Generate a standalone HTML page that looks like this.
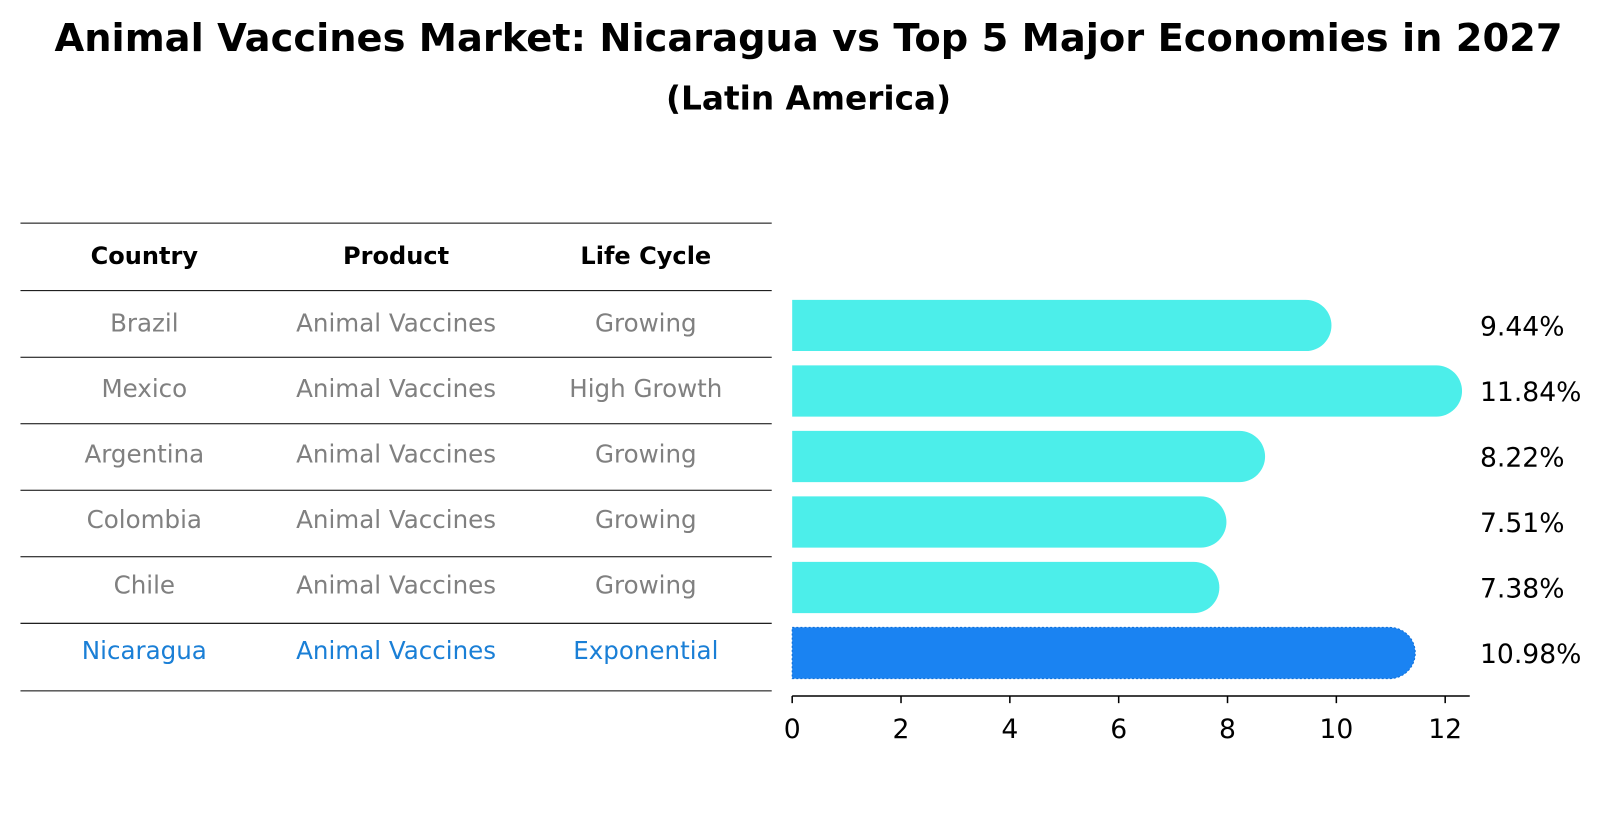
<!DOCTYPE html>
<html><head><meta charset="utf-8"><style>
body{margin:0;background:#fff;}
svg{display:block;font-family:"DejaVu Sans","Liberation Sans",sans-serif;}
</style></head><body>
<svg id="chart" width="1604" height="823" viewBox="0 0 1604 823">
<g transform="scale(1.0235)">
<text x="790" y="50" text-anchor="middle" font-size="37.5" font-weight="bold">Animal Vaccines Market: Nicaragua vs Top 5 Major Economies in 2027</text>
<text x="790" y="107" text-anchor="middle" font-size="32" font-weight="bold">(Latin America)</text>
<g id="table"></g>
<g id="bars"></g>
</g>
</svg>
<script>
const countries=["Brazil","Mexico","Argentina","Colombia","Chile","Nicaragua"];
const products=["Animal Vaccines","Animal Vaccines","Animal Vaccines","Animal Vaccines","Animal Vaccines","Animal Vaccines"];
const lifeCycles=["Growing","High Growth","Growing","Growing","Growing","Exponential"];
const growthValues=[9.44,11.84,8.22,7.51,7.38,10.98];
const valueLabels=["9.44%","11.84%","8.22%","7.51%","7.38%","10.98%"];
const xTicks=[0,2,4,6,8,10,12];

const NS="http://www.w3.org/2000/svg";
function mk(tag,attrs,parent){const e=document.createElementNS(NS,tag);for(const k in attrs)e.setAttribute(k,attrs[k]);parent.appendChild(e);return e;}
const table=document.getElementById('table');
const bars=document.getElementById('bars');
const x=v=>774+v*(638/12);
const rowY=i=>318+i*64;

const lineYs=[218,284,349,414,479,544,609,675];
lineYs.forEach((ly,i)=>{
  const l=mk('line',{x1:20,x2:754,y1:ly,y2:ly,stroke:'#000','stroke-width':1},table);
  
  
});
const colX=[141,387,631];
["Country","Product","Life Cycle"].forEach((h,i)=>{
  const t=mk('text',{x:colX[i],y:258,'text-anchor':'middle','font-size':23.5,'font-weight':'bold'},table);
  t.textContent=h;
  
  
});
countries.forEach((c,i)=>{
  const col=i===countries.length-1?'#1a7fd6':'#808080';
  const cy=rowY(i);
  [c,products[i],lifeCycles[i]].forEach((v,j)=>{
    const t=mk('text',{x:colX[j],y:cy+6,'text-anchor':'middle','font-size':24,fill:col},table);
    t.textContent=v;
    
    
  });
});

const h=50,r=25;
growthValues.forEach((v,i)=>{
  const last=i===growthValues.length-1;
  const col=last?'#1a83f2':'#4ceeea';
  const cy=rowY(i);
  const p=mk('path',{d:`M${x(0)},${cy-h/2} H${x(v)} A${r},${r} 0 0 1 ${x(v)},${cy+h/2} H${x(0)} Z`,fill:col},bars);
  if(last){p.setAttribute('stroke','#0f6fd8');p.setAttribute('stroke-dasharray','2,2');p.setAttribute('stroke-width','1');}
  
  
  const t=mk('text',{x:1446,y:cy+10,'font-size':26,fill:'#000'},bars);
  t.textContent=valueLabels[i];
  
  
});
const ax=mk('line',{x1:774,x2:1436,y1:680,y2:680,stroke:'#000','stroke-width':1.5},bars);


xTicks.forEach(tv=>{
  const tk=mk('line',{x1:x(tv),x2:x(tv),y1:680,y2:687,stroke:'#000','stroke-width':1.5},bars);
  
  
  const t=mk('text',{x:x(tv),y:721,'text-anchor':'middle','font-size':26},bars);
  t.textContent=tv;
  
  
});
</script>
</body></html>
